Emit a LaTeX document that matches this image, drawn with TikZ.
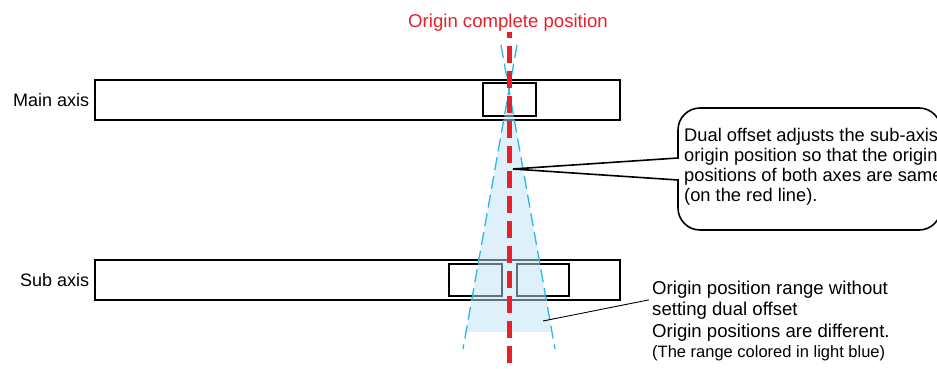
\documentclass[tikz,border=0pt]{standalone}
\usepackage{fontspec}
\setmainfont{Liberation Sans}
\usepackage{tikz}
\usetikzlibrary{positioning}
\definecolor{orgRed}{HTML}{E8202A}
\definecolor{rngBlue}{HTML}{2BB5E8}
\definecolor{rngFill}{HTML}{BEE4F5}
\tikzset{
  bar/.style={draw, line width=1.4pt, minimum width=525pt, minimum height=40pt, inner sep=0pt},
  orgbox/.style={draw, line width=1.4pt, minimum height=32pt, inner sep=0pt},
  lbl/.style={font=\fontsize{18.6}{21}\selectfont, inner sep=0pt, align=left},
  redline/.style={orgRed, line width=5pt, dash pattern=on 17pt off 8pt},   % origin complete position
  rngline/.style={rngBlue, line width=1.3pt, dash pattern=on 13pt off 6pt}, % range limits
  callout/.style={draw, fill=white, line width=1.6pt},
}

\begin{document}
\begin{tikzpicture}[x=1pt,y=1pt]
  \useasboundingbox (0,0) rectangle (937,369);
  \def\xo{509}
  % axes
  \node[bar] (mainbar) at (357.5,269) {};
  \node[orgbox, minimum width=53pt, minimum height=33pt] (mainorg) at (509.5,269.5) {};
  \node[bar] (subbar) at (357.5,89) {};
  \node[orgbox, minimum width=53pt] (suborgL) at (475.5,89) {};
  \node[orgbox, minimum width=52pt] (suborgR) at (543,89) {};
  \node[lbl, font=\fontsize{18}{21}\selectfont, left=5pt of mainbar] (lblmain) {Main axis};
  \node[lbl, font=\fontsize{18}{21}\selectfont, left=5pt of subbar] (lblsub) {Sub axis};

  % range without dual offset
  \coordinate (apex) at (\xo,279);
  \fill[rngFill, fill opacity=0.5] (apex) -- (466,37) -- (552,37) -- cycle;
  \draw[rngline] (501,324) -- (555,20);
  \draw[rngline] (517,324) -- (463,20);

  % origin line
  \node[lbl, text=orgRed, anchor=base] (ttl) at (508,341) {Origin complete position};
  \draw[redline, dash phase=11pt] (\xo,337) -- (\xo,0);

  % callout
  \coordinate (tip) at (513,200);
  \draw[callout] (tip) -- (678,211) -- (678,239)
    arc[start angle=180, end angle=90, radius=22pt] -- (919,261)
    arc[start angle=90, end angle=0, radius=22pt] -- (941,161)
    arc[start angle=0, end angle=-90, radius=22pt] -- (700,139)
    arc[start angle=270, end angle=180, radius=22pt] -- (678,189) -- cycle;
  \node[lbl, font=\fontsize{18.3}{20}\selectfont, anchor=north west] (note) at (684,241)
    {Dual offset adjusts the sub-axis\\origin position so that the origin\\positions of both axes are same\\(on the red line).};

  % range notes
  \node[lbl, anchor=north west] (rangetxt) at (652,88.5) {Origin position range without\\setting dual offset};
  \node[lbl, anchor=base west] (difftxt) at (652,31) {Origin positions are different.};
  \node[lbl, font=\fontsize{16.5}{20}\selectfont, anchor=base west] (colnote) at (652,11) {(The range colored in light blue)};
  \coordinate (rangept) at (543,48);
  \draw[line width=0.9pt] (rangept) -- ([xshift=-3pt]rangetxt.west);
\end{tikzpicture}
\end{document}
